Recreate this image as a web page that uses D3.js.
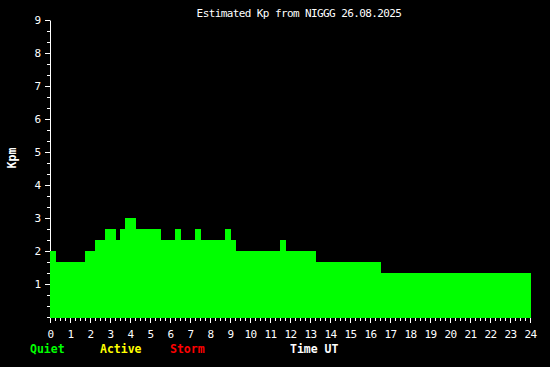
<!DOCTYPE html>
<html>
<head>
<meta charset="utf-8">
<script src="https://cdn.jsdelivr.net/npm/d3@7"></script>
<style>
  body { margin: 0; background: #000; }
  svg { display: block; }
  text { font-family: "DejaVu Sans Mono", monospace; fill: #fff; }
</style>
</head>
<body>
<svg id="chart" width="550" height="367"></svg>
<script>
// step start times (hours UT) and estimated Kp for each step
const stepStart = [0, 0.3, 1.75, 2.25, 2.75, 3.3, 3.5, 3.75, 4.3, 5.55, 6.25, 6.55, 7.25, 7.55, 8.75, 9.05, 9.3, 11.5, 11.8, 13.3, 16.55];
const stepKp    = [2.0, 1.667, 2.0, 2.333, 2.667, 2.333, 2.667, 3.0, 2.667, 2.333, 2.667, 2.333, 2.667, 2.333, 2.667, 2.333, 2.0, 2.333, 2.0, 1.667, 1.333];
const lastEnd = 24.05;

const hourTicks = d3.range(0, 25);
const kpTicks = d3.range(1, 10);
const legend = [
  { name: "Quiet", color: "#00ff00" },
  { name: "Active", color: "#ffff00" },
  { name: "Storm", color: "#ff0000" }
];

const svg = d3.select("#chart");
svg.append("rect").attr("width", 550).attr("height", 367).attr("fill", "#000");

const x = d3.scaleLinear().domain([0, 24]).range([50, 530]);
const y = d3.scaleLinear().domain([0, 9]).range([317, 20]);

// x axis: hours + quarter-hour minor ticks
svg.append("g")
  .attr("transform", "translate(0,318)")
  .call(d3.axisBottom(x).tickValues(d3.range(0, 24.01, 0.25)).tickSize(3).tickFormat(""))
  .call(g => g.select(".domain").remove())
  .call(g => g.selectAll("line").attr("stroke", "#fff"));

svg.append("g")
  .attr("transform", "translate(0,318)")
  .call(d3.axisBottom(x).tickValues(hourTicks).tickSize(5).tickPadding(7).tickFormat(d3.format("d")))
  .call(g => g.select(".domain").remove())
  .call(g => g.selectAll("line").attr("stroke", "#fff"))
  .call(g => g.selectAll("text").attr("fill", "#fff").attr("font-size", "11px")
    .attr("letter-spacing", "-0.6px").attr("font-family", "DejaVu Sans Mono"));

// y axis: integer ticks + thirds
svg.append("g")
  .attr("transform", "translate(50,0)")
  .call(d3.axisLeft(y).tickValues(d3.range(0, 9.01, 1 / 3)).tickSize(3).tickSizeOuter(0).tickFormat(""))
  .call(g => g.select(".domain").attr("stroke", "#fff"))
  .call(g => g.selectAll("line").attr("stroke", "#fff"));

svg.append("g")
  .attr("transform", "translate(50,0)")
  .call(d3.axisLeft(y).tickValues(kpTicks).tickSize(5).tickSizeOuter(0).tickPadding(4).tickFormat(d3.format("d")))
  .call(g => g.select(".domain").remove())
  .call(g => g.selectAll("line").attr("stroke", "#fff"))
  .call(g => g.selectAll("text").attr("fill", "#fff").attr("font-size", "11px")
    .attr("font-family", "DejaVu Sans Mono"));

// Kp step area
const pts = stepStart.map((t, i) => [t, stepKp[i]]);
pts.push([lastEnd, stepKp[stepKp.length - 1]]);

const area = d3.area()
  .curve(d3.curveStepAfter)
  .x(d => x(d[0]))
  .y0(y(0) + 1)
  .y1(d => y(d[1]));

svg.append("path")
  .datum(pts)
  .attr("d", area)
  .attr("fill", "#00ff00")
  .attr("shape-rendering", "crispEdges");

// title
svg.append("text")
  .attr("x", 299).attr("y", 16.5)
  .attr("text-anchor", "middle")
  .attr("font-size", "11px")
  .attr("letter-spacing", "-0.6px")
  .text("Estimated Kp from NIGGG 26.08.2025");

// y label
svg.append("text")
  .attr("transform", "translate(16,158) rotate(-90)")
  .attr("text-anchor", "middle")
  .attr("font-size", "11.5px")
  .attr("font-weight", "bold")
  .text("Kpm");

// legend
const legX = [30, 100, 170];
svg.selectAll(".leg")
  .data(legend)
  .enter().append("text")
  .attr("class", "leg")
  .attr("x", (d, i) => legX[i])
  .attr("y", 353)
  .attr("font-size", "11.5px")
  .attr("font-weight", "bold")
  .style("fill", d => d.color)
  .text(d => d.name);

svg.append("text")
  .attr("x", 290).attr("y", 353)
  .attr("font-size", "11.5px")
  .attr("font-weight", "bold")
  .text("Time UT");
</script>
</body>
</html>
